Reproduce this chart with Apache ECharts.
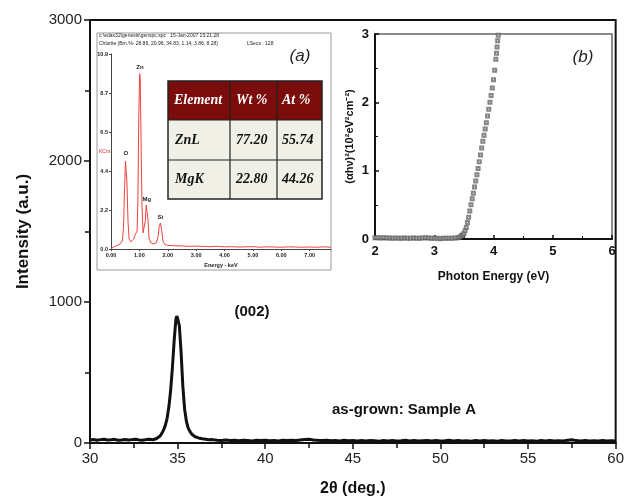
<!DOCTYPE html>
<html>
<head>
<meta charset="utf-8">
<script src="https://cdn.jsdelivr.net/npm/echarts@6/dist/echarts.min.js"></script>
<style>html,body{margin:0;padding:0;background:#fff}#c{width:627px;height:502px}</style>
</head>
<body>
<div id="c"></div>
<script>
// ---- Main XRD pattern ----
var xrdTheta = [30.0,30.2,30.4,30.6,30.8,31.0,31.2,31.4,31.6,31.8,32.0,32.2,32.4,32.6,32.8,33.0,33.2,33.4,33.6,
  33.8,34.0,34.1,34.2,34.3,34.4,34.5,34.6,34.7,34.8,34.9,34.95,35.0,35.05,35.1,35.2,35.3,35.4,35.5,35.6,35.7,35.8,35.9,36.0,36.2,36.4,36.6,36.8,37.0,
  37.25,37.5,37.75,38.0,38.25,38.5,38.75,39.0,39.25,39.5,39.75,40.0,40.25,40.5,40.75,41.0,41.25,41.5,41.75,42.0,42.25,42.5,42.75,43.0,43.25,43.5,43.75,44.0,44.25,44.5,44.75,45.0,
  45.25,45.5,45.75,46.0,46.25,46.5,46.75,47.0,47.25,47.5,47.75,48.0,48.25,48.5,48.75,49.0,49.25,49.5,49.75,50.0,50.25,50.5,50.75,51.0,51.25,51.5,51.75,52.0,52.25,52.5,52.75,
  53.0,53.25,53.5,53.75,54.0,54.25,54.5,54.75,55.0,55.25,55.5,55.75,56.0,56.25,56.5,56.75,57.0,57.25,57.5,57.75,58.0,58.25,58.5,58.75,59.0,59.25,59.5,59.75,60.0];
var xrdCounts = [22,25,20,24,27,21,23,26,20,22,25,21,24,27,22,20,24,26,23,
  32,50,68,92,125,175,255,370,530,720,875,900,885,890,830,640,400,240,155,108,82,64,52,44,36,30,27,23,24,
  20,18,21,17,19,16,20,18,15,19,17,20,16,18,15,19,17,20,18,21,24,26,22,19,17,20,16,18,15,19,16,18,
  14,17,15,18,16,13,17,15,18,14,16,19,15,17,14,16,18,15,17,14,16,19,15,17,14,16,13,17,15,18,14,
  16,13,17,15,14,17,15,18,14,16,13,17,15,18,14,16,15,19,23,17,15,18,14,16,15,17,14,16,15];

// ---- Inset (a): EDX spectrum ----
var edxEnergy = [0.00,0.05,0.10,0.15,0.20,0.25,0.30,0.35,0.40,0.44,0.48,0.51,0.53,0.56,0.60,0.64,0.70,0.75,0.80,0.85,0.88,0.92,0.95,0.98,1.01,1.03,1.06,1.09,1.13,1.17,1.21,1.24,1.27,1.30,1.34,1.40,1.50,1.60,1.66,1.70,1.74,1.78,1.83,1.90,
  2.00,2.25,2.50,2.75,3.00,3.25,3.50,3.75,4.00,4.25,4.50,4.75,5.00,5.25,5.50,5.75,6.00,6.25,6.50,6.75,7.00,7.25,7.50,7.75];
var edxCounts = [0.02,0.06,0.12,0.18,0.20,0.22,0.25,0.30,0.45,1.2,3.5,4.9,5.0,3.8,1.5,0.55,0.40,0.42,0.55,0.80,0.85,1.0,3.0,7.5,9.8,9.5,6.0,2.5,0.9,0.8,1.6,2.45,2.4,1.7,0.6,0.35,0.28,0.35,0.7,1.3,1.45,1.1,0.45,0.25,
  0.20,0.18,0.17,0.15,0.16,0.14,0.13,0.15,0.12,0.13,0.11,0.12,0.13,0.10,0.12,0.11,0.10,0.12,0.11,0.10,0.11,0.10,0.12,0.10];
var edxPeakLabels = [['O',0.52,5.0],['Zn',1.02,9.8],['Mg',1.26,2.45],['Si',1.74,1.45]];
var tableHeader = ['Element','Wt %','At %'];
var tableRows = [['ZnL','77.20','55.74'],['MgK','22.80','44.26']];

// ---- Inset (b): Tauc plot ----
var taucEnergy = [2.00,2.05,2.10,2.15,2.20,2.25,2.30,2.35,2.40,2.45,2.50,2.55,2.60,2.65,2.70,2.75,2.80,2.85,2.90,2.95,3.00,3.05,3.10,3.15,3.20,3.25,3.30,3.35,3.40,3.43,3.46,3.48,
  3.50,3.52,3.54,3.56,3.58,3.60,3.62,3.64,3.66,3.68,3.70,3.72,3.74,3.76,3.78,3.80,3.82,3.84,3.86,3.88,3.90,3.92,3.94,3.96,3.98,4.00,4.02,4.04,4.05,4.06,4.07,4.08];
var taucValues = [0.02,0.02,0.015,0.02,0.015,0.015,0.01,0.015,0.01,0.01,0.015,0.01,0.01,0.015,0.01,0.01,0.015,0.02,0.015,0.01,0.01,0.01,0.005,0.01,0.01,0.01,0.01,0.015,0.02,0.03,0.05,0.06,
  0.08,0.12,0.17,0.24,0.32,0.41,0.50,0.59,0.67,0.76,0.85,0.94,1.03,1.13,1.23,1.33,1.43,1.52,1.61,1.70,1.80,1.90,2.00,2.10,2.21,2.33,2.47,2.63,2.72,2.81,2.90,2.98];

function pairs(a,b){return a.map(function(v,i){return [v,b[i]];});}

var sans = '"Liberation Sans", Arial, sans-serif';
var serif = '"Liberation Serif", "Times New Roman", serif';

var graphics = [];
// inset (a) frame
graphics.push({type:'rect', z:0, shape:{x:97,y:33,width:234,height:237}, style:{fill:'#fff', stroke:'#9a9a9a', lineWidth:1}});
graphics.push({type:'text', z:5, x:99, y:33, style:{text:'c:\\edax32\\genesis\\genspc.spc   15-Jan-2007 15:21:28', fontSize:5, fontFamily:sans, fill:'#222'}});
graphics.push({type:'text', z:5, x:99, y:41, style:{text:'Chlorite (Bm.%- 28.86, 20.96, 34.83, 1.14, 3.86, 8.28)', fontSize:5, fontFamily:sans, fill:'#222'}});
graphics.push({type:'text', z:5, x:247, y:41, style:{text:'LSecs : 128', fontSize:5, fontFamily:sans, fill:'#222'}});
graphics.push({type:'text', z:5, x:99, y:152, style:{text:'KCnt', fontSize:5, fontFamily:sans, fill:'#e02020', verticalAlign:'middle'}});
graphics.push({type:'text', z:5, x:300, y:56, style:{text:'(a)', fontSize:17, fontStyle:'italic', fontFamily:sans, fill:'#222', align:'center', verticalAlign:'middle'}});
// table
var tx = [168,230,277,322], ty = [81,120,160,199];
graphics.push({type:'rect', z:5, shape:{x:tx[0],y:ty[0],width:tx[3]-tx[0],height:ty[1]-ty[0]}, style:{fill:'#7a0c0c'}});
graphics.push({type:'rect', z:5, shape:{x:tx[0],y:ty[1],width:tx[3]-tx[0],height:ty[3]-ty[1]}, style:{fill:'#f1f0e6'}});
graphics.push({type:'rect', z:6, shape:{x:tx[0],y:ty[0],width:tx[3]-tx[0],height:ty[3]-ty[0]}, style:{fill:null, stroke:'#222', lineWidth:1.5}});
[ty[1],ty[2]].forEach(function(y){graphics.push({type:'line', z:6, shape:{x1:tx[0],y1:y,x2:tx[3],y2:y}, style:{stroke:'#222', lineWidth:1.2}});});
[tx[1],tx[2]].forEach(function(x){graphics.push({type:'line', z:6, shape:{x1:x,y1:ty[0],x2:x,y2:ty[3]}, style:{stroke:'#222', lineWidth:1.2}});});
var colX = [174,236,282];
tableHeader.forEach(function(t,i){
  graphics.push({type:'text', z:7, x:colX[i], y:(ty[0]+ty[1])/2, style:{text:t, fontSize:14, fontWeight:'bold', fontStyle:'italic', fontFamily:serif, fill:'#fff', verticalAlign:'middle'}});
});
tableRows.forEach(function(r,j){
  r.forEach(function(t,i){
    graphics.push({type:'text', z:7, x:colX[i]+(i===0?1:0), y:(ty[j+1]+ty[j+2])/2, style:{text:t, fontSize:14, fontWeight:'bold', fontStyle:'italic', fontFamily:serif, fill:'#111', verticalAlign:'middle'}});
  });
});
// inset (b) label
graphics.push({type:'text', z:5, x:583, y:57, style:{text:'(b)', fontSize:17, fontStyle:'italic', fontFamily:sans, fill:'#222', align:'center', verticalAlign:'middle'}});
// main annotations
graphics.push({type:'text', z:5, x:252, y:312, style:{text:'(002)', fontSize:15, fontWeight:'bold', fontFamily:sans, fill:'#111', align:'center', verticalAlign:'middle'}});
graphics.push({type:'text', z:5, x:332, y:410, style:{text:'as-grown: Sample A', fontSize:15, fontWeight:'bold', fontFamily:sans, fill:'#111', verticalAlign:'middle'}});

var chart = echarts.init(document.getElementById('c'), null, {renderer:'canvas'});
chart.setOption({
  animation:false,
  backgroundColor:'#fff',
  graphic: graphics,
  grid: [
    {left:90, top:20, width:528, height:424, show:true, borderColor:'#111', borderWidth:2, backgroundColor:'transparent'},
    {left:111, top:54, width:220, height:195, show:false},
    {left:375, top:34, width:237, height:205, show:true, borderColor:'#666', borderWidth:1.5, backgroundColor:'#fff', z:3}
  ],
  xAxis: [
    {gridIndex:0, type:'value', min:30, max:60, interval:5,
      axisLine:{show:true, onZero:false, lineStyle:{color:'#111', width:2}},
      axisTick:{show:true, inside:false, length:6, lineStyle:{color:'#111', width:1.5}},
      minorTick:{show:true, splitNumber:2, length:5, lineStyle:{color:'#111', width:1.5}},
      splitLine:{show:false},
      axisLabel:{fontSize:15, color:'#222', fontFamily:sans, margin:8, formatter:function(v){return String(v);}},
      name:'2θ (deg.)', nameLocation:'middle', nameGap:38,
      nameTextStyle:{fontSize:16, fontWeight:'bold', color:'#111', fontFamily:sans}},
    {gridIndex:1, type:'value', min:0, max:7.75, interval:1,
      axisLine:{show:true, onZero:false, lineStyle:{color:'#444', width:1}},
      axisTick:{show:true, inside:false, length:2, lineStyle:{color:'#444'}},
      splitLine:{show:false},
      axisLabel:{fontSize:5.5, fontWeight:'bold', color:'#222', fontFamily:sans, margin:3, showMaxLabel:false,
        formatter:function(v){return v.toFixed(2);}},
      name:'Energy - keV', nameLocation:'middle', nameGap:13,
      nameTextStyle:{fontSize:5.5, fontWeight:'bold', color:'#222', fontFamily:sans}},
    {gridIndex:2, type:'value', min:2, max:6, interval:1, z:4,
      axisLine:{show:true, onZero:false, lineStyle:{color:'#111', width:2}},
      axisTick:{show:true, inside:true, length:4, lineStyle:{color:'#111', width:1.5}},
      minorTick:{show:true, splitNumber:2, length:3, lineStyle:{color:'#111', width:1}},
      splitLine:{show:false},
      axisLabel:{fontSize:13, fontWeight:'bold', color:'#111', fontFamily:sans, margin:6},
      name:'Photon Energy (eV)', nameLocation:'middle', nameGap:32,
      nameTextStyle:{fontSize:12, fontWeight:'bold', color:'#111', fontFamily:sans}}
  ],
  yAxis: [
    {gridIndex:0, type:'value', min:0, max:3000, interval:1000,
      axisLine:{show:true, onZero:false, lineStyle:{color:'#111', width:2}},
      axisTick:{show:true, inside:false, length:6, lineStyle:{color:'#111', width:1.5}},
      minorTick:{show:true, splitNumber:2, length:5, lineStyle:{color:'#111', width:1.5}},
      splitLine:{show:false},
      axisLabel:{fontSize:15, color:'#222', fontFamily:sans, margin:8, formatter:function(v){return String(v);}},
      name:'Intensity (a.u.)', nameLocation:'middle', nameGap:58,
      nameTextStyle:{fontSize:17, fontWeight:'bold', color:'#111', fontFamily:sans}},
    {gridIndex:1, type:'value', min:0, max:10.9, interval:2.18,
      axisLine:{show:true, onZero:false, lineStyle:{color:'#444', width:1}},
      axisTick:{show:true, inside:false, length:2, lineStyle:{color:'#444'}},
      splitLine:{show:false},
      axisLabel:{fontSize:5.5, fontWeight:'bold', color:'#222', fontFamily:sans, margin:3,
        formatter:function(v){return v.toFixed(1);}}},
    {gridIndex:2, type:'value', min:0, max:3, interval:1, z:4,
      axisLine:{show:true, onZero:false, lineStyle:{color:'#111', width:2}},
      axisTick:{show:true, inside:true, length:4, lineStyle:{color:'#111', width:1.5}},
      minorTick:{show:true, splitNumber:2, length:3, lineStyle:{color:'#111', width:1}},
      splitLine:{show:false},
      axisLabel:{fontSize:13, fontWeight:'bold', color:'#111', fontFamily:sans, margin:6},
      name:'(αhν)²(10²eV²cm⁻²)', nameLocation:'middle', nameGap:20,
      nameTextStyle:{fontSize:11, fontWeight:'bold', color:'#111', fontFamily:sans}}
  ],
  series: [
    {type:'line', xAxisIndex:0, yAxisIndex:0, data:pairs(xrdTheta,xrdCounts), showSymbol:false, symbol:'none',
      lineStyle:{color:'#111', width:3}, z:2},
    {type:'line', xAxisIndex:1, yAxisIndex:1, data:pairs(edxEnergy,edxCounts), showSymbol:false, symbol:'none',
      lineStyle:{color:'#f04040', width:1}, z:3,
      markPoint:{symbol:'circle', symbolSize:0,
        label:{show:true, position:'top', distance:3, fontSize:6, fontWeight:'bold', color:'#222', fontFamily:sans, formatter:function(p){return p.name;}},
        data:edxPeakLabels.map(function(p){return {name:p[0], coord:[p[1],p[2]]};})}},
    {type:'scatter', xAxisIndex:2, yAxisIndex:2, data:pairs(taucEnergy,taucValues), symbol:'emptyRect', symbolSize:3,
      itemStyle:{color:'#666', borderColor:'#666', borderWidth:0.6}, z:5}
  ]
});
</script>
</body>
</html>
